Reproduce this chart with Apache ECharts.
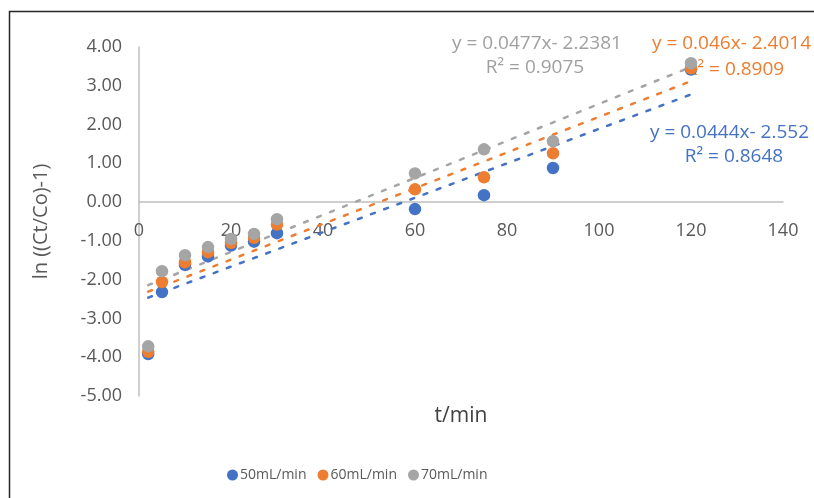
<!DOCTYPE html>
<html>
<head>
<meta charset="utf-8">
<script src="https://cdn.jsdelivr.net/npm/echarts@6/dist/echarts.min.js"></script>
<style>html,body{margin:0;padding:0;background:#fff}#c{width:814px;height:498px}</style>
</head>
<body>
<div id="c"></div>
<script>
var tValues = [2, 5, 10, 15, 20, 25, 30, 60, 75, 90, 120];
var s50 = [-3.92, -2.32, -1.62, -1.40, -1.12, -1.02, -0.80, -0.18, 0.18, 0.88, 3.42];
var s60 = [-3.86, -2.06, -1.55, -1.29, -1.05, -0.92, -0.58, 0.33, 0.64, 1.26, 3.45];
var s70 = [-3.72, -1.78, -1.37, -1.16, -0.95, -0.82, -0.44, 0.74, 1.36, 1.57, 3.58];
var seriesNames = ['50mL/min', '60mL/min', '70mL/min'];
var slopes = [0.0444, 0.046, 0.0477];
var intercepts = [-2.552, -2.4014, -2.2381];
var eqTexts = ['y = 0.0444x- 2.552', 'y = 0.046x- 2.4014', 'y = 0.0477x- 2.2381'];
var r2Texts = ['R\u00B2 = 0.8648', 'R\u00B2 = 0.8909', 'R\u00B2 = 0.9075'];
var colors = ['#4472C4', '#ED7D31', '#A5A5A5'];
var FONT = "'Open Sans', 'Noto Sans', sans-serif";

var allY = [s50, s60, s70];
var series = [];
for (var i = 0; i < 3; i++) {
  var x0 = tValues[0], x1 = tValues[tValues.length - 1];
  series.push({
    name: seriesNames[i] + ' trend',
    type: 'line',
    showSymbol: false,
    silent: true,
    z: 1,
    data: [[x0, slopes[i] * x0 + intercepts[i]], [x1, slopes[i] * x1 + intercepts[i]]],
    lineStyle: { color: colors[i], width: 2.5, type: [4, 10], cap: 'round' }
  });
}
for (var i = 0; i < 3; i++) {
  series.push({
    name: seriesNames[i],
    type: 'scatter',
    symbol: 'circle',
    symbolSize: 12.5,
    z: 3 + i,
    itemStyle: { color: colors[i], opacity: 1 },
    data: tValues.map(function (t, k) { return [t, allY[i][k]]; })
  });
}

var chart = echarts.init(document.getElementById('c'), null, { renderer: 'canvas' });
chart.setOption({
  animation: false,
  backgroundColor: '#fff',
  textStyle: { fontFamily: FONT },
  grid: { left: 139, right: 31, top: 47, bottom: 102, containLabel: false, outerBoundsMode: 'none' },
  xAxis: {
    type: 'value', min: 0, max: 140, interval: 20,
    name: 't/min', nameLocation: 'middle', nameGap: 10,
    nameTextStyle: { fontSize: 21, color: '#404040', fontFamily: FONT },
    axisLine: { onZero: true, lineStyle: { color: '#BFBFBF', width: 1.5 } },
    axisTick: { show: false },
    splitLine: { show: false },
    axisLabel: { color: '#595959', fontSize: 18, margin: -174, fontFamily: FONT }
  },
  yAxis: {
    type: 'value', min: -5, max: 4, interval: 1,
    name: 'ln ((Ct/Co)-1)', nameLocation: 'middle', nameGap: 88, nameRotate: 90,
    nameTextStyle: { fontSize: 20, color: '#595959', fontFamily: FONT },
    axisLine: { show: true, onZero: false, lineStyle: { color: '#BFBFBF', width: 1.5 } },
    axisTick: { show: false },
    splitLine: { show: false },
    axisLabel: { color: '#595959', fontSize: 18, margin: 17, fontFamily: FONT,
      formatter: function (v) { return v.toFixed(2); } }
  },
  legend: {
    data: seriesNames,
    left: 222, top: 463,
    icon: 'circle', itemWidth: 11, itemHeight: 11, itemGap: 11,
    textStyle: { color: '#595959', fontSize: 14, fontFamily: FONT, padding: [0, 0, 0, -3] }
  },
  graphic: [
    { type: 'rect', left: 7, top: 9, shape: { width: 900, height: 700 }, silent: true, z: -1,
      style: { fill: 'none', stroke: '#262626', lineWidth: 1.5 } },
    { type: 'text', x: 452, y: 44, style: { text: eqTexts[2], fill: '#A0A0A0', font: '19px ' + FONT, textAlign: 'left', textVerticalAlign: 'middle' } },
    { type: 'text', x: 535, y: 68, style: { text: r2Texts[2], fill: '#A0A0A0', font: '19px ' + FONT, textAlign: 'center', textVerticalAlign: 'middle' } },
    { type: 'text', x: 652, y: 44, style: { text: eqTexts[1], fill: '#ED7D31', font: '19px ' + FONT, textAlign: 'left', textVerticalAlign: 'middle' } },
    { type: 'text', x: 735, y: 70, style: { text: r2Texts[1], fill: '#ED7D31', font: '19px ' + FONT, textAlign: 'center', textVerticalAlign: 'middle' } },
    { type: 'text', x: 650, y: 133, style: { text: eqTexts[0], fill: '#4472C4', font: '19px ' + FONT, textAlign: 'left', textVerticalAlign: 'middle' } },
    { type: 'text', x: 734, y: 157, style: { text: r2Texts[0], fill: '#4472C4', font: '19px ' + FONT, textAlign: 'center', textVerticalAlign: 'middle' } }
  ],
  series: series
});
</script>
</body>
</html>
